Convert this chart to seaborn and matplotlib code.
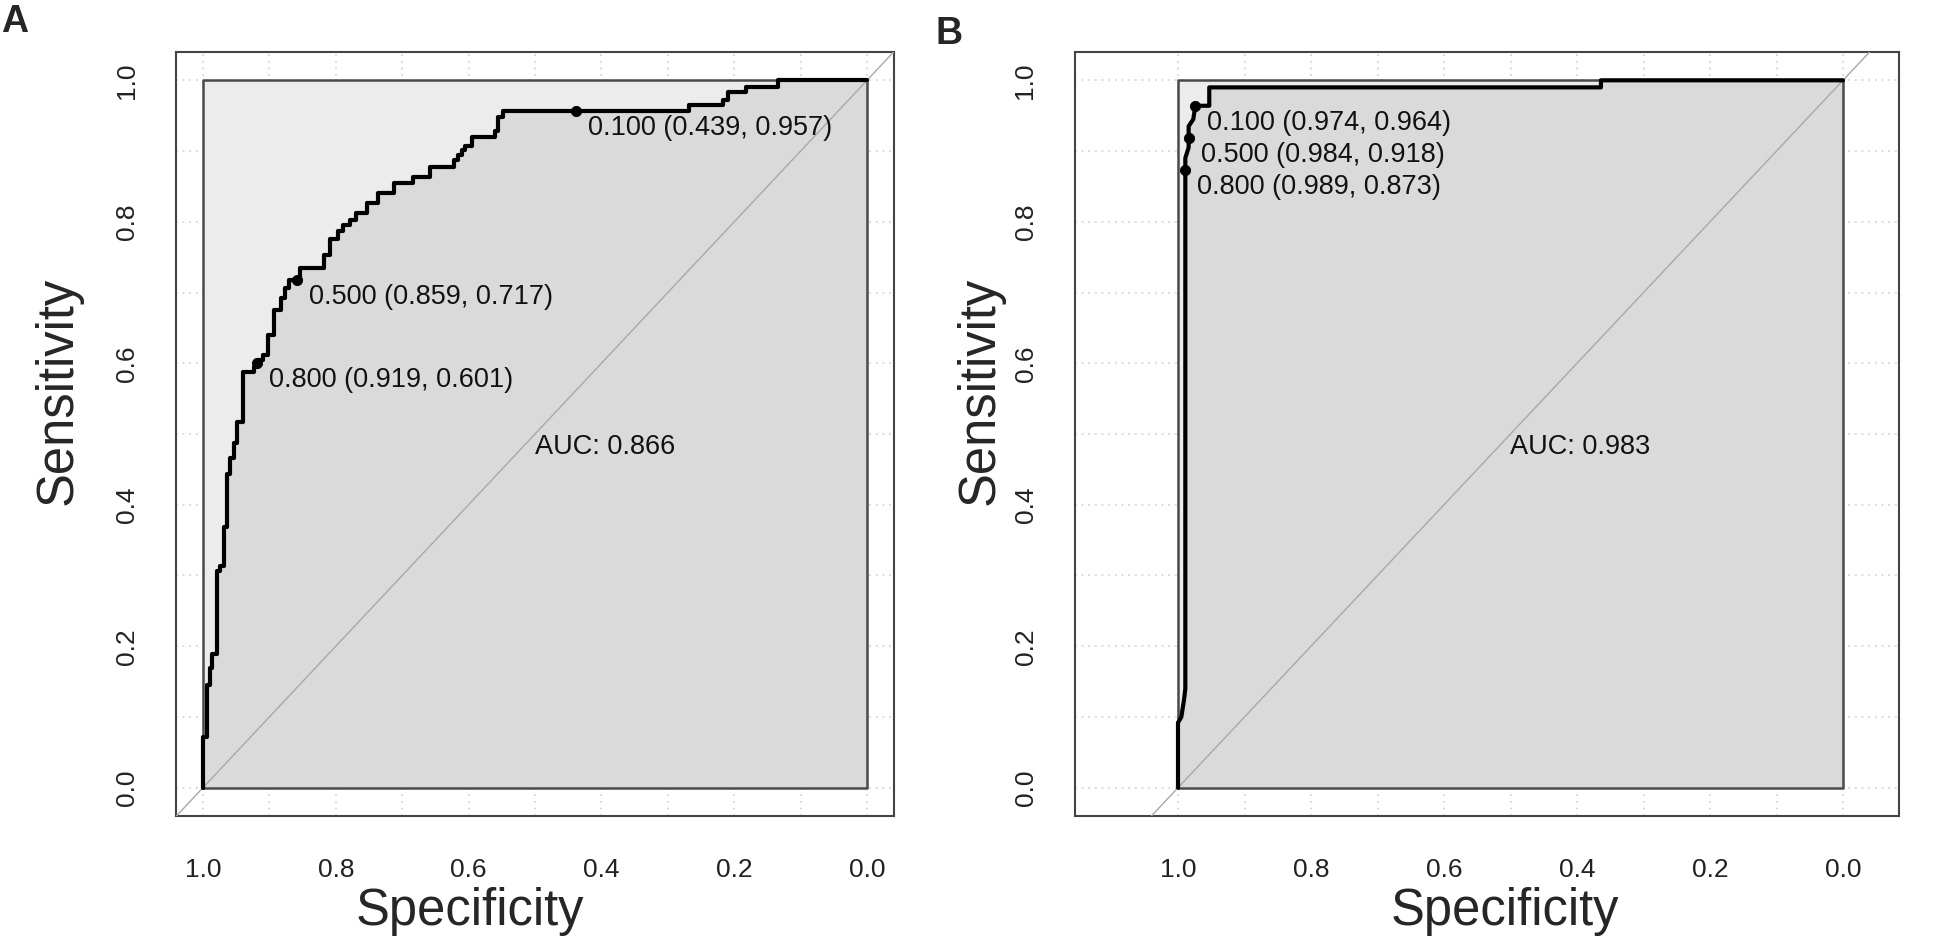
import matplotlib.pyplot as plt
import numpy as np
import seaborn as sns

# panel A: roc curve vertices (specificity, sensitivity)
spec_a = [1.000, 1.000, 0.994, 0.994, 0.989, 0.989, 0.986, 0.986, 0.979, 0.979,
          0.974, 0.974, 0.968, 0.968, 0.964, 0.964, 0.959, 0.959, 0.953, 0.953,
          0.948, 0.948, 0.939, 0.939, 0.923, 0.923, 0.919, 0.919, 0.909, 0.909,
          0.902, 0.902, 0.893, 0.893, 0.883, 0.883, 0.877, 0.877, 0.870, 0.870,
          0.854, 0.854, 0.818, 0.818, 0.809, 0.809, 0.796, 0.796, 0.789, 0.789,
          0.779, 0.779, 0.769, 0.769, 0.753, 0.753, 0.736, 0.736, 0.713, 0.713,
          0.683, 0.683, 0.658, 0.658, 0.622, 0.622, 0.616, 0.616, 0.610, 0.610,
          0.605, 0.605, 0.595, 0.595, 0.560, 0.560, 0.555, 0.555, 0.548, 0.548,
          0.268, 0.268, 0.217, 0.217, 0.209, 0.209, 0.182, 0.182, 0.134, 0.134,
          0.000]
sens_a = [0.000, 0.072, 0.072, 0.145, 0.145, 0.169, 0.169, 0.189, 0.189, 0.307,
          0.307, 0.314, 0.314, 0.369, 0.369, 0.443, 0.443, 0.466, 0.466, 0.487,
          0.487, 0.517, 0.517, 0.588, 0.588, 0.595, 0.595, 0.605, 0.605, 0.612,
          0.612, 0.640, 0.640, 0.675, 0.675, 0.692, 0.692, 0.706, 0.706, 0.718,
          0.718, 0.734, 0.734, 0.753, 0.753, 0.776, 0.776, 0.787, 0.787, 0.795,
          0.795, 0.803, 0.803, 0.813, 0.813, 0.827, 0.827, 0.841, 0.841, 0.855,
          0.855, 0.863, 0.863, 0.878, 0.878, 0.887, 0.887, 0.894, 0.894, 0.901,
          0.901, 0.907, 0.907, 0.920, 0.920, 0.929, 0.929, 0.948, 0.948, 0.957,
          0.957, 0.965, 0.965, 0.972, 0.972, 0.983, 0.983, 0.991, 0.991, 1.000,
          1.000]
thr_a = ['0.100', '0.500', '0.800']
thr_spec_a = [0.439, 0.859, 0.919]
thr_sens_a = [0.957, 0.717, 0.601]
auc_a = 0.866

# panel B
spec_b = [1.000, 1.000, 0.995, 0.991, 0.989, 0.989, 0.989, 0.984, 0.984, 0.984,
          0.977, 0.974, 0.953, 0.953, 0.364, 0.364, 0.000]
sens_b = [0.000, 0.092, 0.100, 0.124, 0.140, 0.873, 0.890, 0.905, 0.918, 0.935,
          0.945, 0.964, 0.964, 0.990, 0.990, 1.000, 1.000]
thr_b = ['0.100', '0.500', '0.800']
thr_spec_b = [0.974, 0.984, 0.989]
thr_sens_b = [0.964, 0.918, 0.873]
auc_b = 0.983

FONT = ['Liberation Sans', 'DejaVu Sans']


def draw_panel(ax, spec, sens, thr, thr_spec, thr_sens, auc, xlim):
    ax.set_xlim(xlim)
    ax.set_ylim(-0.04, 1.04)
    for g in np.arange(0, 1.01, 0.1):
        ax.axvline(g, color='#d0d0d0', ls=(0, (1, 3)), lw=1.2, zorder=0)
        ax.axhline(g, color='#d0d0d0', ls=(0, (1, 3)), lw=1.2, zorder=0)
    # max auc square, then the auc polygon
    ax.fill([1, 0, 0, 1], [0, 0, 1, 1], color='#ececec', lw=0, zorder=1)
    ax.fill(list(spec) + [0, 1], list(sens) + [0, 0], color='#dadada', lw=0, zorder=2)
    ax.plot([1, 0, 0, 1, 1], [0, 0, 1, 1, 0], color='#4a4a4a', lw=1.8, zorder=3)
    ax.axline((1, 0), (0, 1), color='#a8a8a8', lw=1.0, zorder=3)
    sns.lineplot(x=spec, y=sens, sort=False, estimator=None, color='black',
                 lw=3.0, ax=ax, zorder=4)
    sns.scatterplot(x=thr_spec, y=thr_sens, color='black', s=55, ax=ax,
                    edgecolor='black', zorder=5)
    for t, x, y in zip(thr, thr_spec, thr_sens):
        ax.annotate(f'{t} ({x:.3f}, {y:.3f})', (x, y), xytext=(12, -4),
                    textcoords='offset pixels', ha='left', va='top',
                    fontsize=19.5, family=FONT, color='#111111', zorder=6)
    ax.text(0.5, 0.5, f'AUC: {auc:.3f}', ha='left', va='top', fontsize=19.5,
            family=FONT, color='#111111', zorder=6)

    ticks = [1.0, 0.8, 0.6, 0.4, 0.2, 0.0]
    ax.set_xticks(ticks)
    ax.set_xticklabels([f'{t:.1f}' for t in ticks], family=FONT)
    ax.set_yticks(ticks)
    ax.set_yticklabels([f'{t:.1f}' for t in ticks], family=FONT,
                       rotation=90, va='center')
    ax.tick_params(direction='out', length=13, width=1.4, labelsize=19,
                   color='#333333', labelcolor='#222222')
    ax.tick_params(axis='x', pad=17)
    ax.tick_params(axis='y', pad=14)
    for s in ax.spines.values():
        s.set_color('#444444')
        s.set_linewidth(1.5)
        s.set_visible(True)
    ax.grid(False)
    ax.set_xlabel('Specificity', fontsize=36.5, family=FONT, va='center')
    ax.set_ylabel('Sensitivity', fontsize=36.5, family=FONT, va='center')


def main():
    sns.set_theme(style='white')
    plt.rcParams['font.family'] = FONT
    fig = plt.figure(figsize=(19.46, 9.39), dpi=100)

    ax_a = fig.add_axes([176.4 / 1946, 1 - 816 / 939, 717.2 / 1946, 764 / 939])
    draw_panel(ax_a, spec_a, sens_a, thr_a, thr_spec_a, thr_sens_a, auc_a, (1.04, -0.04))
    ax_a.xaxis.set_label_coords((470 - 176.4) / 717.2, (816 - 912) / 764)
    ax_a.yaxis.set_label_coords((58 - 176.4) / 717.2, (816 - 391) / 764)

    left_b, right_b = 1075, 1899
    ax_b = fig.add_axes([left_b / 1946, 1 - 816 / 939, (right_b - left_b) / 1946, 764 / 939])
    draw_panel(ax_b, spec_b, sens_b, thr_b, thr_spec_b, thr_sens_b, auc_b,
               (1 + (1178 - left_b) / 665, -(right_b - 1843) / 665))
    w_b = right_b - left_b
    ax_b.xaxis.set_label_coords((1505 - left_b) / w_b, (816 - 912) / 764)
    ax_b.yaxis.set_label_coords((980 - left_b) / w_b, (816 - 391) / 764)

    fig.text(15 / 1946, 1 - 22 / 939, 'A', fontsize=27, weight='bold',
             ha='center', va='center', family=FONT)
    fig.text(949 / 1946, 1 - 34 / 939, 'B', fontsize=27, weight='bold',
             ha='center', va='center', family=FONT)

    plt.savefig('out.png', dpi=100)


if __name__ == '__main__':
    main()
